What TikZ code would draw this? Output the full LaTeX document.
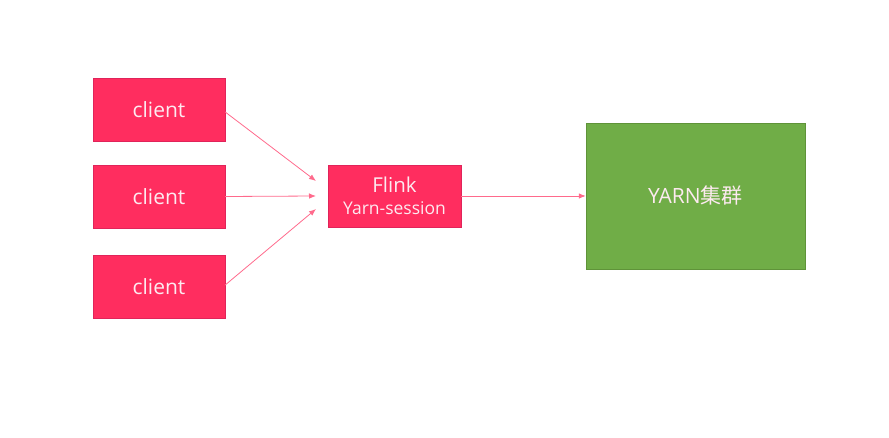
\documentclass[tikz,border=0pt]{standalone}
\usepackage{fontspec}
\setmainfont{Open Sans}
\newfontfamily\cjkfont{Noto Sans CJK SC}
\usetikzlibrary{arrows.meta,positioning}
\definecolor{boxpink}{HTML}{FF2D5F}
\definecolor{edgepink}{HTML}{E0245A}
\definecolor{arrowpink}{HTML}{FF6A8C}
\definecolor{boxgreen}{HTML}{70AD47}
\definecolor{edgegreen}{HTML}{5F9339}
\definecolor{textwhite}{HTML}{FDEAF0}

\begin{document}
\begin{tikzpicture}[x=1pt,y=-1pt,
  clientbox/.style={draw=edgepink, fill=boxpink, text=textwhite, inner sep=0pt,
    minimum width=132pt, minimum height=63pt, font=\fontsize{21}{24}\selectfont},
  link/.style={arrowpink, line width=0.8pt, -{Latex[length=7pt,width=5.5pt]}}]
  % Frame
  \useasboundingbox (0,0) rectangle (889,438);

  % Clients
  \node[clientbox] (client1) at (159,109.5) {client};
  \node[clientbox] (client2) at (159,196.5) {client};
  \node[clientbox] (client3) at (159,286.5) {client};

  % Flink session
  \node[clientbox, minimum width=133pt, minimum height=62pt, align=center,
    font=\fontsize{20.5}{21}\selectfont]
    (flink) at (394.5,196) {Flink\\[0.5pt]{\fontsize{17.5}{18}\selectfont Yarn-session}};

  % YARN cluster
  \node[draw=edgegreen, fill=boxgreen, text=textwhite, inner sep=0pt,
    minimum width=219pt, minimum height=146pt, font=\fontsize{21}{24}\selectfont]
    (yarn) at (695.5,196) {YARN{\cjkfont 集群}};

  % Arrow ends before the Flink box
  \coordinate (in1) at (316,181);
  \coordinate (in2) at (316,196);
  \coordinate (in3) at (316,209);

  \draw[link] ([yshift=-2.5pt]client1.east) -- (in1);
  \draw[link] (client2.east) -- (in2);
  \draw[link] ([yshift=1.5pt]client3.east) -- (in3);
  \draw[link] (flink.east) -- (yarn.west);
\end{tikzpicture}
\end{document}
